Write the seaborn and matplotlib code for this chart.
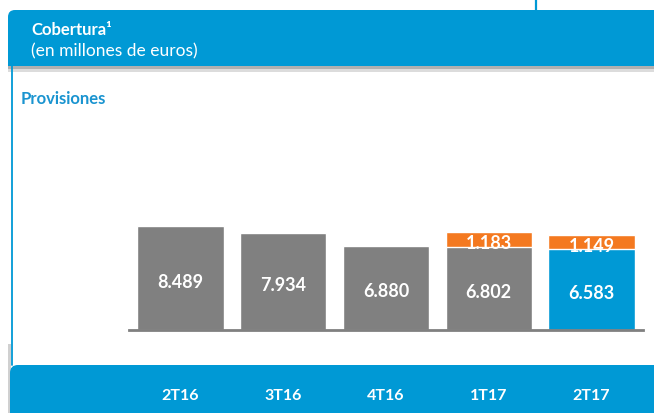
import matplotlib
matplotlib.use("Agg")
import matplotlib.pyplot as plt
from matplotlib.patches import FancyBboxPatch, Rectangle
import seaborn as sns
import pandas as pd

# Datos (millones de euros)
trimestres = ["2T16", "3T16", "4T16", "1T17", "2T17"]
provisiones = [8489, 7934, 6880, 6802, 6583]
adicional = [0, 0, 0, 1183, 1149]

df = pd.DataFrame({"trimestre": trimestres, "provisiones": provisiones, "adicional": adicional})
df["total"] = df["provisiones"] + df["adicional"]

AZUL = "#0099D5"
GRIS = "#808080"
NARANJA = "#F47920"
colores_base = [GRIS, GRIS, GRIS, GRIS, AZUL]

sns.set_theme(style="white")
plt.rcParams["font.family"] = ["Lato", "DejaVu Sans"]

fig = plt.figure(figsize=(6.54, 4.14), dpi=100)

# capa de fondo en pixeles para las bandas
bg = fig.add_axes([0, 0, 1, 1])
bg.set_xlim(0, 654)
bg.set_ylim(414, 0)
bg.axis("off")

bg.add_patch(Rectangle((8, 67), 660, 3, color="#b0b0b0", lw=0))
bg.add_patch(Rectangle((8, 70), 660, 3, color="#dcdcdc", lw=0))
bg.add_patch(FancyBboxPatch((8, 11), 700, 56, boxstyle="round,pad=0,rounding_size=7",
                            fc=AZUL, ec="none"))
bg.add_patch(Rectangle((8, 45), 12, 22, color=AZUL, lw=0))
bg.plot([12, 12], [67, 366], color=AZUL, lw=1.3)
bg.plot([536, 536], [0, 11], color=AZUL, lw=1.6)
bg.add_patch(Rectangle((8, 345), 3, 70, color="#d0d0d0", lw=0))
bg.add_patch(FancyBboxPatch((10, 366), 700, 100, boxstyle="round,pad=0,rounding_size=8",
                            fc=AZUL, ec="none"))

bg.text(31, 30, "Cobertura¹", color="white", fontsize=12, fontweight="bold", va="center")
bg.text(31, 51, "(en millones de euros)", color="white", fontsize=12.5, va="center")
bg.text(21, 99, "Provisiones", color="#1A94D0", fontsize=12, fontweight="bold", va="center")

# grafico de barras
ax = fig.add_axes([129 / 654, 83 / 414, 514 / 654, 122.5 / 414])
ax.patch.set_alpha(0)
sns.barplot(data=df, x="trimestre", y="total", color=NARANJA, width=0.84,
            saturation=1, ax=ax)
sns.barplot(data=df, x="trimestre", y="provisiones", hue="trimestre", palette=colores_base,
            width=0.84, saturation=1, legend=False, ax=ax)
ax.set_xlim(-0.5, 4.5)
ax.set_ylim(0, 10000)
ax.set_xlabel("")
ax.set_ylabel("")
ax.set_yticks([])
for lado in ["top", "left", "right"]:
    ax.spines[lado].set_visible(False)
ax.spines["bottom"].set_color(GRIS)
ax.spines["bottom"].set_linewidth(2)
ax.tick_params(axis="x", length=0, pad=42, colors="white", labelsize=11.5)
for lbl in ax.get_xticklabels():
    lbl.set_fontweight("bold")

def fmt(v):
    return f"{v:,}".replace(",", ".")

for i, (b, a) in enumerate(zip(provisiones, adicional)):
    ax.text(i, b / 2 - 250, fmt(b), color="white", fontsize=13, fontweight="bold",
            ha="center", va="center")
    if a:
        ax.text(i, b + a / 2 - 250, fmt(a), color="white", fontsize=13, fontweight="bold",
                ha="center", va="center")

fig.savefig("out.png", dpi=100)
